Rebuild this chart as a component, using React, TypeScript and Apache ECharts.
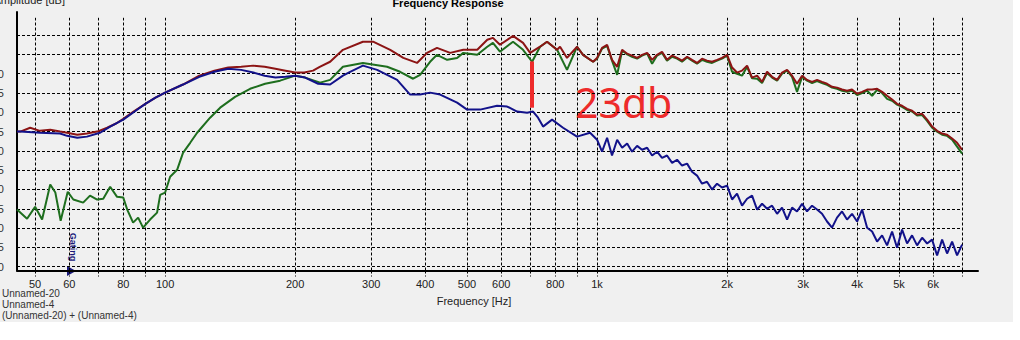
import React, { useEffect, useRef } from 'react';
import * as echarts from 'echarts';

const X_MIN = 45.4;
const X_MAX = 7620;
const Y_MIN = 39;
const Y_MAX = 106;
const GRID_TOP_DB = 104.5;
const GRID_RIGHT_HZ = 7000;

const gridFreqs = [50, 60, 70, 80, 90, 100, 200, 300, 400, 500, 600, 700, 800, 900, 1000, 2000, 3000, 4000, 5000, 6000, 7000];
const labelFreqs = [50, 60, 80, 100, 200, 300, 400, 500, 600, 800, 1000, 2000, 3000, 4000, 5000, 6000];
const gridDb = [40, 45, 50, 55, 60, 65, 70, 75, 80, 85, 90, 95, 100];
const labelDb = [40, 45, 50, 55, 60, 65, 70, 75, 80, 85, 90];

const legendNames = ['Unnamed-20', 'Unnamed-4', '(Unnamed-20) + (Unnamed-4)'];

// shared high-frequency grid (Hz)
const hfFreq = [1000, 1027, 1055, 1083, 1113, 1143, 1174, 1205, 1238, 1271, 1306, 1341, 1377, 1414, 1452, 1492, 1532, 1573, 1616, 1659,
  1704, 1750, 1797, 1846, 1896, 1947, 2000, 2054, 2109, 2166, 2225, 2285, 2347, 2410, 2475, 2542, 2611, 2681, 2754, 2828,
  2904, 2983, 3063, 3146, 3231, 3318, 3408, 3500, 3594, 3691, 3791, 3893, 4000, 4108, 4219, 4333, 4450, 4570, 4693, 4820,
  4950, 5084, 5221, 5362, 5507, 5657, 5809, 5966, 6127, 6293, 6462, 6637, 6816, 7000];

// Sum (red)
const redLowFreq = [45.4, 46.2, 48.7, 51.3, 54.2, 57.1, 59.3, 62.6, 65.9, 69.6, 73.4, 77, 80, 85, 90, 95, 100, 110, 120, 130,
  140, 150, 160, 170, 180, 190, 200, 210, 220, 228, 241, 258, 287, 303, 332, 356, 383, 404, 426, 457,
  490, 528, 557, 574, 596, 639, 674, 700, 738, 766, 808, 821, 852, 899, 928, 979];
const redLowDb = [75.0, 75.0, 76.0, 75.2, 75.5, 75.0, 74.7, 74.2, 74.5, 75.0, 76.0, 77.1, 78.3, 80.4, 82.2, 83.8, 85.1, 87.2, 89.5, 90.8,
  91.6, 91.8, 92.1, 91.8, 91.3, 90.8, 90.3, 90.3, 90.8, 91.8, 93.1, 96.2, 98.3, 98.3, 96.2, 94.1, 92.8, 95.4, 96.7, 95.4,
  96.2, 96.2, 98.8, 99.3, 97.5, 99.8, 98.0, 95.4, 97.0, 98.3, 96.2, 97.0, 94.1, 97.0, 94.9, 93.1];
const redHfDb = [94.1, 96.7, 97.5, 93.6, 91.8, 96.2, 95.2, 94.7, 94.1, 94.9, 95.4, 93.6, 94.9, 95.7, 93.6, 94.7, 94.1, 93.4, 94.4, 93.6,
  92.8, 93.9, 93.4, 93.1, 93.6, 94.1, 94.9, 91.6, 90.3, 90.8, 92.1, 89.0, 89.5, 87.9, 90.5, 89.2, 88.4, 90.3, 91.0, 89.5,
  87.4, 89.5, 88.4, 87.9, 88.4, 87.9, 87.4, 86.6, 86.4, 85.9, 85.6, 85.9, 84.8, 85.3, 85.9, 85.9, 86.1, 85.3, 84.3, 83.3,
  82.2, 81.7, 80.9, 80.4, 79.4, 79.6, 78.1, 76.3, 75.2, 74.5, 74.2, 73.2, 72.1, 70.3];

// Unnamed-4 (green)
const greenLowFreq = [45.4, 47.9, 50, 51.9, 54.2, 55.7, 57.3, 59.5, 61.3, 64.6, 67.0, 69.6, 71.9, 74.6, 77.4, 80.0, 81.7, 84.3, 86.6, 88.9,
  92.3, 95.8, 97.4, 100, 102.7, 106.6, 110, 114.3, 118.6,
  127.1, 134.1, 145.2, 157.3, 170.4, 184.6, 200, 210.9, 228.5, 241, 258, 287, 326.5, 349.9, 375.1, 389.3, 410.6, 426, 449.7, 474.2,
  490, 528, 557, 574, 596, 639, 674, 707.3, 738, 766, 808, 852, 899, 928, 979];
const greenLowDb = [54.8, 52.4, 55.5, 52.2, 61.3, 59.2, 51.9, 59.4, 57.4, 56.6, 58.4, 57.4, 57.6, 60.7, 58.1, 57.9, 54.8, 51.4, 52.7, 50.1,
  52.2, 54.0, 58.6, 59.2, 63.3, 65.1, 69.5, 72.1, 74.7,
  78.6, 81.2, 84.0, 86.1, 87.4, 88.2, 89.5, 89.0, 87.7, 88.4, 91.8, 92.8, 91.8, 90.5, 88.7, 89.7, 93.1, 94.9, 93.6, 94.1,
  95.4, 94.9, 97.0, 98.0, 95.7, 98.3, 96.2, 93.1, 97.0, 98.3, 96.2, 91.0, 97.0, 94.9, 93.1];
const greenHfDb = [93.9, 96.5, 97.2, 93.4, 89.7, 96.0, 95.0, 94.4, 93.9, 94.7, 95.2, 92.6, 94.7, 95.4, 93.4, 94.4, 93.9, 93.1, 94.2, 93.4,
  92.6, 93.6, 93.1, 92.8, 93.4, 93.9, 94.7, 90.5, 90.0, 89.5, 91.8, 88.8, 88.7, 87.6, 90.2, 89.0, 88.2, 90.0, 90.8, 89.2,
  85.3, 89.2, 88.2, 87.6, 88.1, 87.6, 87.1, 86.4, 86.1, 85.6, 85.3, 85.6, 84.5, 85.0, 85.6, 84.3, 85.8, 85.0, 83.5, 83.0,
  82.0, 81.4, 80.6, 80.2, 79.2, 79.3, 77.8, 76.0, 75.0, 74.2, 73.9, 72.9, 71.1, 69.3];

// Unnamed-20 (blue)
const blueLowFreq = [45.4, 46.2, 51.3, 57.1, 59.3, 62.6, 65.9, 70.7, 74.6, 80, 85, 90, 95, 100, 110, 120, 130, 140, 150, 160,
  170, 180, 190, 200, 210.9, 226.1, 241, 258, 268.1, 287, 309.6, 344.4, 369.1, 389.3, 410.6, 433.2, 474.2, 500.1, 536.2, 586.8,
  619.0, 652.9, 688.7, 710.9, 730.1, 749.9, 786.7, 834.2, 898.7, 963.4];
const blueLowDb = [75.0, 75.0, 74.7, 74.5, 73.9, 73.4, 73.7, 74.7, 76.3, 78.1, 80.2, 82.2, 83.8, 85.1, 87.2, 89.2, 90.5, 91.3, 91.0, 90.3,
  89.5, 89.0, 89.2, 89.5, 89.0, 87.4, 87.2, 89.5, 90.5, 92.1, 91.0, 88.4, 84.6, 84.6, 85.1, 84.6, 82.5, 80.7, 80.7, 81.7,
  81.5, 80.2, 79.9, 80.2, 78.6, 76.3, 78.1, 76.0, 73.7, 74.7];
const blueHfDb = [72.9, 69.8, 73.4, 68.8, 72.9, 70.8, 71.9, 69.8, 71.3, 70.3, 70.8, 68.8, 69.8, 68.2, 68.8, 66.9, 67.7, 66.2, 66.7, 64.6,
  63.6, 61.5, 62.0, 60.0, 61.5, 60.5, 61.0, 57.4, 58.9, 55.8, 57.6, 58.4, 54.8, 56.3, 55.0, 55.8, 53.7, 55.3, 52.2, 55.3,
  54.3, 56.3, 54.3, 55.8, 54.8, 53.7, 51.7, 50.1, 52.7, 54.3, 52.2, 53.7, 51.7, 54.8, 50.1, 49.1, 46.5, 48.1, 45.5, 49.1,
  44.9, 49.6, 46.0, 48.1, 45.5, 47.5, 46.0, 47.0, 42.9, 47.0, 43.4, 46.5, 42.9, 45.7];

// annotation: level difference marked at ~707 Hz
const markFreq = 707;
const markTopDb = 93.2;
const markBottomDb = 81.2;

const zip = (f: number[], v: number[]) => f.map((x, i) => [x, v[i]]);

const FONT = '"Liberation Sans", Arial, sans-serif';
const RED = '#8c1414';
const GREEN = '#1e6e1e';
const BLUE = '#12128a';
const ANNOT = '#ee2b2b';

export default function App() {
  const ref = useRef<HTMLDivElement>(null);
  useEffect(() => {
    if (!ref.current) return;
    const chart = echarts.init(ref.current, undefined, { renderer: 'svg' });
    const dash = [3, 2];
    const hLines = gridDb.map((v) => [{ coord: [X_MIN, v] }, { coord: [GRID_RIGHT_HZ, v] }]);
    const vLines = gridFreqs.map((f) => [{ coord: [f, Y_MIN] }, { coord: [f, GRID_TOP_DB] }]);
    const option: any = {
      animation: false,
      backgroundColor: '#f0f0f0',
      grid: { left: 17, right: 42, top: 12, bottom: 69.5, containLabel: false, outerBoundsMode: 'none' },
      xAxis: {
        type: 'log',
        logBase: 10,
        min: X_MIN,
        max: X_MAX,
        axisLine: { show: true, lineStyle: { color: '#000', width: 2 } },
        axisTick: { show: true, customValues: gridFreqs, length: 6, lineStyle: { color: '#000', type: dash, width: 1 } },
        axisLabel: {
          customValues: labelFreqs,
          margin: 8,
          fontSize: 11,
          fontFamily: FONT,
          color: '#222',
          formatter: (v: number) => (v >= 1000 ? `${Math.round(v / 1000)}k` : `${Math.round(v)}`),
        },
        splitLine: { show: false },
        minorSplitLine: { show: false },
      },
      yAxis: {
        type: 'value',
        min: Y_MIN,
        max: Y_MAX,
        axisLine: { show: true, lineStyle: { color: '#000', width: 2 } },
        axisTick: { show: false },
        axisLabel: { customValues: labelDb, margin: 13, fontSize: 11, fontFamily: FONT, color: '#333' },
        splitLine: { show: false },
      },
      series: [
        {
          type: 'line',
          name: 'grid',
          data: [],
          silent: true,
          z: 1,
          markLine: {
            silent: true,
            symbol: ['none', 'none'],
            label: { show: false },
            lineStyle: { color: '#000', width: 1, type: dash },
            data: [...hLines, ...vLines],
            z: 1,
          },
        },
        {
          type: 'line',
          name: legendNames[1],
          data: zip([...greenLowFreq, ...hfFreq], [...greenLowDb, ...greenHfDb]),
          showSymbol: false,
          lineStyle: { color: GREEN, width: 2 },
          z: 3,
        },
        {
          type: 'line',
          name: legendNames[2],
          data: zip([...redLowFreq, ...hfFreq], [...redLowDb, ...redHfDb]),
          showSymbol: false,
          lineStyle: { color: RED, width: 2 },
          z: 4,
        },
        {
          type: 'line',
          name: legendNames[0],
          data: zip([...blueLowFreq, ...hfFreq], [...blueLowDb, ...blueHfDb]),
          showSymbol: false,
          lineStyle: { color: BLUE, width: 2 },
          z: 5,
          markLine: {
            silent: true,
            symbol: ['none', 'none'],
            label: { show: false },
            lineStyle: { color: ANNOT, width: 4, type: 'solid' },
            data: [[{ coord: [markFreq, markTopDb] }, { coord: [markFreq, markBottomDb] }]],
          },
        },
      ],
      graphic: [
        { type: 'rect', silent: true, shape: { x: 1013, y: 0, width: 20, height: 340 }, style: { fill: '#ffffff' } },
        { type: 'rect', silent: true, shape: { x: 0, y: 322, width: 1020, height: 30 }, style: { fill: '#ffffff' } },
        {
          type: 'text', x: 448, y: 3, silent: true,
          style: { text: 'Frequency Response', fontSize: 11, fontWeight: 'bold', fontFamily: FONT, fill: '#000', align: 'center', verticalAlign: 'middle' },
        },
        {
          type: 'text', x: 65, y: 0, silent: true,
          style: { text: 'Amplitude [dB]', fontSize: 11, fontFamily: FONT, fill: '#222', align: 'right', verticalAlign: 'middle' },
        },
        {
          type: 'text', x: 474, y: 301, silent: true,
          style: { text: 'Frequency [Hz]', fontSize: 11, fontFamily: FONT, fill: '#222', align: 'center', verticalAlign: 'middle' },
        },
        ...legendNames.map((t, i) => ({
          type: 'text', x: 2, y: 293 + i * 11, silent: true,
          style: { text: t, fontSize: 10, fontFamily: FONT, fill: '#333', align: 'left', verticalAlign: 'middle' },
        })),
        {
          type: 'text', x: 575, y: 102, silent: true,
          style: { text: '23db', fontSize: 41, fontFamily: '"Noto Sans", sans-serif', fill: ANNOT, align: 'left', verticalAlign: 'middle' },
        },
        {
          type: 'text', x: 73, y: 247, rotation: -Math.PI / 2, silent: true,
          style: { text: 'Gating', fontSize: 9, fontWeight: 'bold', fontFamily: FONT, fill: '#1a1a7a', align: 'center', verticalAlign: 'middle' },
        },
        {
          type: 'polygon', silent: true,
          shape: { points: [[67, 266], [76, 271], [67, 276]] },
          style: { fill: '#1a1a7a' },
        },
      ],
    };
    chart.setOption(option);
    return () => chart.dispose();
  }, []);
  return <div ref={ref} style={{ position: 'absolute', left: 0, top: 0, width: 1020, height: 340 }} />;
}
